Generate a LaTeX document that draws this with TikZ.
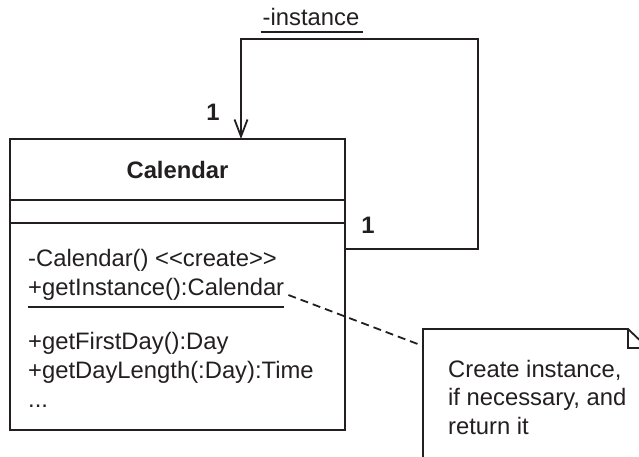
\documentclass[tikz,border=0pt]{standalone}
\usepackage{fontspec}
\setmainfont{Liberation Sans}
\usepackage{tikz}
\usetikzlibrary{arrows.meta, positioning, calc}
\definecolor{umlink}{RGB}{35,31,32}
\newcommand{\umlfont}{\fontsize{23.8}{28.5}\selectfont}
\tikzset{
  classbox/.style={rectangle, draw=umlink, minimum width=335pt,
    inner sep=0pt, outer sep=0pt, line width=1.8pt},
  optext/.style={anchor=base west, inner sep=0pt, font=\umlfont,
    text=umlink},
  multext/.style={anchor=base, inner sep=0pt, font=\umlfont\bfseries,
    text=umlink},
  assoc/.style={draw=umlink, line width=1.8pt,
    -{Straight Barb[length=17pt, width=13pt]}},
  noteline/.style={draw=umlink, line width=1.8pt, dash pattern=on 8pt off 5pt},
  noteedge/.style={draw=umlink, line width=1.8pt},
  stline/.style={draw=umlink, line width=1.8pt}
}

\begin{document}
\begin{tikzpicture}[x=1pt, y=-1pt]
  \useasboundingbox (0,0) rectangle (639,456);
  \clip (0,0) rectangle (639,456);
  % class Calendar
  \node[classbox, minimum height=61pt, anchor=north west, font=\umlfont\bfseries,
        text=umlink] (hdr) at (10,139) {Calendar};
  \node[classbox, minimum height=23pt, anchor=north] (attr) at (hdr.south) {};
  \node[classbox, minimum height=207pt, anchor=north] (ops) at (attr.south) {};
  % operations
  \node[optext] (mcreate) at (28,266) {-Calendar() <{}<create>{}>};
  \node[optext] (minst) at (28,295) {+getInstance():Calendar};
  \draw[stline] ([yshift=-12pt]minst.base west) -- ([yshift=-12pt]minst.base east);
  \node[optext] (mfirst) at (28,349) {+getFirstDay():Day};
  \node[optext] (mlength) at (28,378) {+getDayLength(:Day):Time};
  \node[optext] (mmore) at (28,407) {...};
  % self association
  \draw[assoc] ([yshift=-26pt]ops.north east) -| (478,39)
    -| ([xshift=63.5pt]hdr.north);
  \node[optext, anchor=base] (rolename) at (311,25) {-instance};
  \draw[stline] ([xshift=-2pt, yshift=-7pt]rolename.base west)
    -- ([xshift=4pt, yshift=-7pt]rolename.base east);
  \node[multext] (multgt) at (213,120) {1};
  \node[multext] (mulsrc) at (368,233) {1};
  % note
  \coordinate (notecorner) at (423,329);
  \coordinate (notelink) at (423,346);
  \draw[noteedge] (423,470) -- (notecorner) -- (628,329) -- (648,348) -- (648,470);
  \draw[noteedge] (628,329) -- (628,348) -- (648,348);
  \node[optext, anchor=north west, align=left] (notetext) at (448,360)
    {Create instance,\\if necessary, and\\return it};
  \draw[noteline] ([xshift=4pt]minst.base east) -- (notelink);
\end{tikzpicture}
\end{document}
